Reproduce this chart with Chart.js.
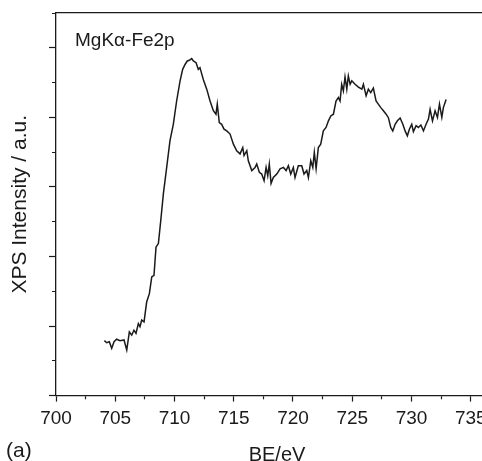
<!DOCTYPE html>
<html>
<head>
<meta charset="utf-8">
<script src="https://cdn.jsdelivr.net/npm/chart.js@4.4.1/dist/chart.umd.min.js"></script>
<style>
  html, body { margin: 0; padding: 0; background: #fff; overflow: hidden; }
  #wrap { width: 482px; height: 461px; overflow: hidden; }
</style>
</head>
<body>
<div id="wrap"><canvas id="xps" width="500" height="470"></canvas></div>
<script>
// Fe2p spectrum (BE in eV, intensity in arbitrary units)
const bindingEnergy = [
  704.08, 704.28, 704.5, 704.7, 704.9, 705.12, 705.4, 705.74, 705.97, 706.19,
  706.39, 706.58, 706.75, 706.95, 707.09, 707.23, 707.43, 707.65, 707.88, 708.08,
  708.27, 708.44, 708.64, 708.84, 709.06, 709.34, 709.62, 709.9, 710.18, 710.47,
  710.69, 710.89, 711.08, 711.25, 711.45, 711.59, 711.82, 712.01, 712.15, 712.43,
  712.72, 713.0, 713.28, 713.5, 713.61, 713.78, 713.98, 714.18, 714.41, 714.69,
  714.97, 715.25, 715.53, 715.76, 715.87, 716.1, 716.23, 716.52, 716.8, 716.94,
  717.16, 717.36, 717.56, 717.73, 717.87, 718.0, 718.15, 718.34, 718.63, 718.91,
  719.19, 719.42, 719.61, 719.81, 720.03, 720.17, 720.45, 720.74, 720.93, 721.16,
  721.3, 721.5, 721.67, 721.8, 721.95, 722.14, 722.34, 722.56, 722.79, 722.99,
  723.19, 723.41, 723.63, 723.83, 723.97, 724.11, 724.25, 724.39, 724.54, 724.67,
  724.82, 724.96, 725.24, 725.52, 725.81, 725.94, 726.17, 726.36, 726.56, 726.78,
  727.01, 727.2, 727.41, 727.63, 727.86, 728.05, 728.25, 728.42, 728.62, 728.81,
  729.04, 729.27, 729.46, 729.65, 729.82, 730.02, 730.16, 730.39, 730.58, 730.79,
  731.01, 731.23, 731.43, 731.57, 731.77, 731.99, 732.19, 732.36, 732.56, 732.69,
  732.92
];
const intensity = [
  1.58, 1.52, 1.55, 1.36, 1.55, 1.62, 1.58, 1.6, 1.31, 1.83,
  1.74, 1.88, 1.79, 2.07, 1.98, 2.17, 2.12, 2.69, 2.93, 3.41,
  3.46, 4.27, 4.37, 5.03, 5.8, 6.56, 7.33, 7.8, 8.47, 9.05,
  9.38, 9.52, 9.62, 9.64, 9.69, 9.62, 9.57, 9.38, 9.43, 9.09,
  8.81, 8.47, 8.19, 8.09, 8.38, 7.85, 7.8, 7.66, 7.61, 7.52,
  7.23, 7.04, 6.95, 7.13, 6.9, 7.04, 6.75, 6.47, 6.56, 6.66,
  6.42, 6.37, 6.18, 6.56, 6.32, 6.66, 6.1, 6.27, 6.37, 6.52,
  6.56, 6.47, 6.61, 6.37, 6.56, 6.27, 6.61, 6.61, 6.37, 6.47,
  6.27, 6.75, 6.56, 6.99, 6.52, 7.13, 7.23, 7.61, 7.71, 7.9,
  8.04, 8.09, 8.47, 8.57, 8.47, 8.95, 8.76, 9.16, 8.81, 9.19,
  8.95, 9.05, 8.95, 8.87, 8.81, 8.95, 8.62, 8.81, 8.71, 8.84,
  8.47, 8.38, 8.28, 8.19, 8.09, 7.99, 7.71, 7.61, 7.8, 7.9,
  7.98, 7.8, 7.61, 7.47, 7.66, 7.8, 7.59, 7.76, 7.71, 7.78,
  7.61, 7.8, 7.95, 8.23, 7.9, 8.19, 8.0, 8.38, 8.0, 8.28,
  8.51
];

const xMin = 700, xMax = 737.3, xStep = 2.5;
const yMin = 0, yMax = 11, yStep = 1;
const sampleLabel = 'MgK\u03B1-Fe2p';
const panelLabel = '(a)';

const ink = '#1a1a1a';
const fontFamily = "'Liberation Sans', Arial, sans-serif";

const points = bindingEnergy.map((e, i) => ({ x: e, y: intensity[i] }));

// extra texts in the plot
const annotations = {
  id: 'annotations',
  afterDraw(chart) {
    const ctx = chart.ctx;
    ctx.save();
    ctx.fillStyle = ink;
    ctx.textBaseline = 'middle';
    ctx.textAlign = 'left';
    ctx.font = '19px ' + fontFamily;
    ctx.fillText(sampleLabel, 75, 41);
    ctx.font = '21px ' + fontFamily;
    ctx.fillText(panelLabel, 6, 451);
    ctx.restore();
  }
};

new Chart(document.getElementById('xps').getContext('2d'), {
  type: 'line',
  data: {
    datasets: [{
      data: points,
      borderColor: ink,
      borderWidth: 1.5,
      pointRadius: 0,
      tension: 0,
      fill: false
    }]
  },
  options: {
    responsive: false,
    animation: false,
    layout: { padding: { top: 5, right: 2, left: 0, bottom: 2.6 } },
    plugins: { legend: { display: false }, tooltip: { enabled: false } },
    scales: {
      x: {
        type: 'linear',
        min: xMin,
        max: xMax,
        border: { display: true, color: ink, width: 1.3 },
        grid: {
          drawOnChartArea: false,
          tickLength: 6,
          tickColor: ink,
          tickWidth: 1.2,
          tickBorderDash: (c) => (c.tick && c.tick.value % 5 !== 0) ? [3, 100] : []
        },
        ticks: {
          stepSize: xStep,
          includeBounds: false,
          autoSkip: false,
          maxRotation: 0,
          padding: 5.5,
          color: ink,
          font: { family: fontFamily, size: 19 },
          callback: (v) => (v % 5 === 0 ? v : '')
        },
        title: {
          display: true,
          text: 'BE/eV',
          color: ink,
          font: { family: fontFamily, size: 20 },
          padding: { top: 8, bottom: 0 }
        }
      },
      xTop: {
        type: 'linear',
        position: 'top',
        min: xMin,
        max: xMax,
        border: { display: true, color: ink, width: 1.3 },
        grid: { display: false },
        ticks: { display: false }
      },
      y: {
        min: yMin,
        max: yMax,
        border: { display: true, color: ink, width: 1.3 },
        grid: {
          drawOnChartArea: false,
          tickLength: 7,
          tickColor: ink,
          tickWidth: 1.2,
          tickBorderDash: (c) => (c.tick && c.tick.value % 2 !== 0) ? [0, 3, 4, 100] : []
        },
        ticks: { display: false, stepSize: yStep },
        title: {
          display: true,
          text: 'XPS Intensity / a.u.',
          color: ink,
          font: { family: fontFamily, size: 21 },
          padding: { top: 7.5, bottom: 16.3 }
        }
      }
    }
  },
  plugins: [annotations]
});
</script>
</body>
</html>
